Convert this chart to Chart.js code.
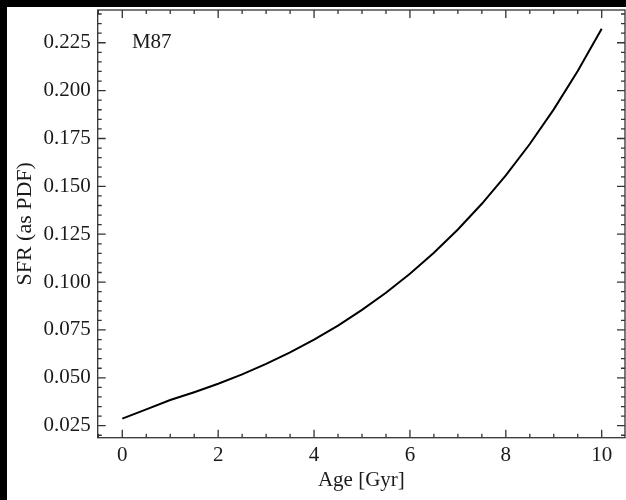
<!DOCTYPE html>
<html>
<head>
<meta charset="utf-8">
<script src="https://cdn.jsdelivr.net/npm/chart.js@4"></script>
<style>
  html, body { margin: 0; padding: 0; background: #000; width: 626px; height: 500px; overflow: hidden; }
  #wrap { position: absolute; left: 7px; top: 7px; width: 619px; height: 493px; background: #fff; }
  canvas { display: block; }
</style>
</head>
<body>
<div id="wrap"><canvas id="c" width="619" height="493"></canvas></div>
<script>
// Data
const ages = [0, 0.5, 1, 1.5, 2, 2.5, 3, 3.5, 4, 4.5, 5, 5.5, 6, 6.5, 7, 7.5, 8, 8.5, 9, 9.5, 10];
const sfr  = [0.0287, 0.0335, 0.0384, 0.0425, 0.0469, 0.0518, 0.0573, 0.0633, 0.0700, 0.0773,
              0.0855, 0.0944, 0.1044, 0.1153, 0.1275, 0.1409, 0.1557, 0.1721, 0.1902, 0.2102, 0.2323];
const xMajorTicks = [0, 2, 4, 6, 8, 10];
const yMajorTicks = [0.025, 0.050, 0.075, 0.100, 0.125, 0.150, 0.175, 0.200, 0.225];
const xMinorStep = 0.5;
const yMinorStep = 0.005;
const label = 'M87';

const FONT = "'Liberation Serif', 'DejaVu Serif', serif";
const INK = '#1a1a1a';

const frameTicks = {
  id: 'frameTicks',
  afterDraw(chart) {
    const ctx = chart.ctx;
    const a = chart.chartArea;
    const xs = chart.scales.x, ys = chart.scales.y;
    ctx.save();
    ctx.strokeStyle = '#333';
    ctx.lineWidth = 1.3;
    const drawX = (v, len) => {
      const p = xs.getPixelForValue(v);
      ctx.beginPath();
      ctx.moveTo(p, a.bottom); ctx.lineTo(p, a.bottom - len);
      ctx.moveTo(p, a.top); ctx.lineTo(p, a.top + len);
      ctx.stroke();
    };
    const drawY = (v, len) => {
      const p = ys.getPixelForValue(v);
      ctx.beginPath();
      ctx.moveTo(a.left, p); ctx.lineTo(a.left + len, p);
      ctx.moveTo(a.right, p); ctx.lineTo(a.right - len, p);
      ctx.stroke();
    };
    for (let i = Math.ceil(xs.min / xMinorStep); i * xMinorStep <= xs.max + 1e-9; i++) {
      const v = i * xMinorStep;
      const major = xMajorTicks.some(t => Math.abs(t - v) < 1e-9);
      drawX(v, major ? 8 : 4);
    }
    for (let i = Math.ceil(ys.min / yMinorStep - 1e-9); i * yMinorStep <= ys.max + 1e-9; i++) {
      const v = i * yMinorStep;
      const major = yMajorTicks.some(t => Math.abs(t - v) < 1e-9);
      drawY(v, major ? 8 : 4);
    }
    ctx.strokeRect(a.left, a.top, a.right - a.left, a.bottom - a.top);
    ctx.fillStyle = INK;
    ctx.font = '21px ' + FONT;
    ctx.textAlign = 'left';
    ctx.textBaseline = 'middle';
    ctx.fillText(label, xs.getPixelForValue(0.2), ys.getPixelForValue(0.225));
    ctx.restore();
  }
};

new Chart(document.getElementById('c'), {
  type: 'line',
  data: {
    datasets: [{
      data: ages.map((a, i) => ({ x: a, y: sfr[i] })),
      borderColor: '#000',
      borderWidth: 2,
      pointRadius: 0,
      tension: 0,
      fill: false
    }]
  },
  options: {
    responsive: false,
    animation: false,
    devicePixelRatio: 1,
    layout: { padding: { top: 3, right: 1, left: 0, bottom: 0 } },
    plugins: { legend: { display: false }, tooltip: { enabled: false } },
    scales: {
      x: {
        type: 'linear',
        min: -0.513, max: 10.486,
        afterFit(s) { s.height = 62.3; s.paddingLeft = 0; s.paddingRight = 0; },
        afterBuildTicks(s) { s.ticks = xMajorTicks.map(v => ({ value: v })); },
        grid: { display: false, drawTicks: false },
        border: { display: false },
        ticks: { color: INK, font: { family: FONT, size: 21 }, padding: 5, maxRotation: 0,
                 callback: v => String(v) },
        title: { display: true, text: 'Age [Gyr]', color: INK,
                 font: { family: FONT, size: 21 }, padding: { top: 0, bottom: 7 } }
      },
      y: {
        type: 'linear',
        min: 0.01873, max: 0.2421,
        afterFit(s) { s.width = 90.7; s.paddingTop = 0; s.paddingBottom = 0; },
        afterBuildTicks(s) { s.ticks = yMajorTicks.map(v => ({ value: v })); },
        grid: { display: false, drawTicks: false },
        border: { display: false },
        ticks: { color: INK, font: { family: FONT, size: 21 }, padding: 7,
                 callback: v => Number(v).toFixed(3) },
        title: { display: true, text: 'SFR (as PDF)', color: INK,
                 font: { family: FONT, size: 22 }, padding: { top: 5, bottom: 0 } }
      }
    }
  },
  plugins: [frameTicks]
});
</script>
</body>
</html>
